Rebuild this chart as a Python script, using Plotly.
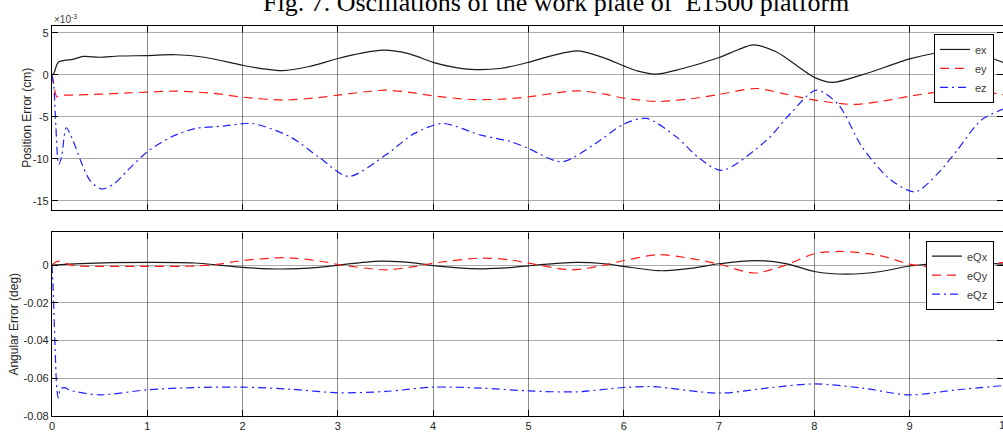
import plotly.graph_objects as go

# ---- position errors of the work plate (units of 1e-3 cm) ----
t_ex = [0, 0.02, 0.05, 0.07, 0.14, 0.22, 0.33, 0.5, 0.7, 1.0, 1.3, 1.6, 2.0, 2.2, 2.42, 2.7,
        3.0, 3.25, 3.48, 3.75, 4.0, 4.2, 4.4, 4.7, 5.0, 5.25, 5.52, 5.8, 6.0, 6.15, 6.34, 6.6,
        7.0, 7.2, 7.36, 7.6, 8.0, 8.19, 8.5, 9.0, 9.25, 9.5, 9.75, 10.0]
ex = [0, 0.2, 1.2, 1.55, 1.75, 1.85, 2.2, 2.1, 2.25, 2.3, 2.4, 2.1, 1.15, 0.75, 0.5, 1.0,
      1.95, 2.6, 2.94, 2.5, 1.5, 0.95, 0.65, 0.76, 1.5, 2.3, 2.86, 2.0, 1.07, 0.45, 0.08, 0.7,
      2.07, 3.0, 3.57, 2.75, -0.3, -0.9, 0.0, 1.9, 2.55, 2.9, 2.4, 1.4]

t_ey = [0, 0.02, 0.05, 0.09, 0.2, 0.5, 0.8, 1.0, 1.3, 1.7, 2.0, 2.44, 2.8, 3.0, 3.49, 3.8,
        4.0, 4.4, 4.7, 5.0, 5.51, 5.8, 6.0, 6.37, 6.7, 7.0, 7.39, 7.7, 8.0, 8.4, 8.7, 9.0,
        9.46, 9.75, 10.0]
ey = [0, -1.2, -2.6, -2.45, -2.4, -2.3, -2.15, -2.06, -1.94, -2.2, -2.65, -3.0, -2.7, -2.42,
      -1.82, -2.15, -2.5, -2.93, -2.9, -2.62, -1.9, -2.3, -2.77, -3.17, -2.85, -2.33, -1.62,
      -2.3, -3.0, -3.52, -3.15, -2.54, -1.82, -1.95, -2.4]

t_ez = [0, 0.02, 0.04, 0.07, 0.1, 0.15, 0.22, 0.3, 0.4, 0.52, 0.65, 0.8, 1.0, 1.25, 1.5,
        1.8, 2.1, 2.5, 2.8, 3.11, 3.5, 3.8, 4.1, 4.5, 4.8, 5.0, 5.35, 5.7, 6.0, 6.24, 6.55,
        6.8, 7.03, 7.5, 7.75, 8.02, 8.25, 8.5, 8.8, 9.06, 9.3, 9.5, 9.75, 10.0]
ez = [0, -1.5, -6.0, -10.7, -9.8, -6.3, -7.8, -10.2, -12.6, -13.6, -13.0, -11.3, -9.17,
      -7.4, -6.4, -6.1, -5.79, -7.38, -9.8, -12.1, -9.56, -7.0, -5.79, -7.18, -7.9, -8.77,
      -10.36, -8.2, -5.87, -5.19, -7.38, -10.0, -11.38, -7.77, -4.6, -1.82, -3.5, -8.57,
      -12.5, -13.93, -11.7, -8.96, -5.4, -4.0]

# ---- angular errors of the work plate (deg) ----
t_eqx = [0, 0.3, 1.0, 1.5, 1.75, 2.0, 2.4, 2.8, 3.0, 3.45, 3.8, 4.0, 4.5, 4.8, 5.0, 5.5,
         5.8, 6.0, 6.37, 6.7, 7.0, 7.38, 7.7, 8.0, 8.34, 8.7, 9.0, 9.4, 9.7, 10.0]
eqx = [0, 0.0008, 0.0014, 0.0011, 0.0, -0.0012, -0.0021, -0.0012, 0.0, 0.0021, 0.0012,
       -0.0003, -0.002, -0.0014, -0.0004, 0.0014, 0.0007, -0.0007, -0.003, -0.0018, 0.0007,
       0.0024, 0.0008, -0.0034, -0.0048, -0.0034, -0.0005, 0.0012, 0.001, 0.0005]

t_eqy = [0, 0.04, 0.08, 0.15, 0.25, 0.5, 1.0, 1.5, 1.75, 2.0, 2.45, 2.8, 3.0, 3.5, 3.8, 4.0,
         4.5, 4.8, 5.0, 5.45, 5.75, 6.0, 6.37, 6.7, 7.0, 7.37, 7.7, 8.0, 8.3, 8.7, 9.0, 9.4,
         9.7, 10.0]
eqy = [0, 0.0016, 0.0021, 0.0008, -0.0004, -0.0007, -0.0007, -0.0005, 0.0005, 0.0024,
       0.0039, 0.0022, 0.0003, -0.0025, -0.0008, 0.001, 0.0037, 0.0028, 0.001, -0.0025,
       -0.0005, 0.0024, 0.0055, 0.0035, 0.0005, -0.0042, 0.0, 0.006, 0.0072, 0.0049, 0.0005,
       -0.0015, -0.0002, 0.0015]

t_eqz = [0, 0.01, 0.03, 0.05, 0.066, 0.09, 0.13, 0.2, 0.5, 1.0, 1.5, 2.0, 2.5, 3.0, 3.5,
         4.0, 4.5, 5.0, 5.5, 6.0, 6.3, 7.0, 7.5, 8.0, 8.5, 9.0, 9.5, 10.0]
eqz = [0, -0.01, -0.04, -0.065, -0.0705, -0.0655, -0.065, -0.0665, -0.0688, -0.0661,
       -0.0649, -0.0647, -0.0658, -0.0677, -0.067, -0.0647, -0.0652, -0.0667, -0.0672,
       -0.0649, -0.0644, -0.0679, -0.0652, -0.063, -0.0652, -0.0688, -0.0661, -0.0638]

# axis ticks
x_ticks = list(range(0, 11))
pos_ticks = [-15, -10, -5, 0, 5]
pos_tick_text = ["-15", "-10", "-5", "0", "5"]
ang_ticks = [-0.08, -0.06, -0.04, -0.02, 0]
ang_tick_text = ["-0.08", "-0.06", "-0.04", "-0.02", "0"]

# ---- page geometry ----
W, H = 1003, 436
ML, MR, MT, MB = 52, 0, 0, 19.5
PH = H - MT - MB            # plot area height in px
PW = W - ML - MR
X_MAX = 9.98                # right edge of the page falls just short of t = 10


def py(px):
    """pixel row -> paper y"""
    return (PH - (px - MT)) / PH


def pxx(px):
    """pixel column -> paper x"""
    return (px - ML) / PW


FONT = "Liberation Sans, Arial, Helvetica, sans-serif"
TICK_FONT = dict(family=FONT, size=11, color="#262626")

BLACK = "#1a1a1a"
RED = "#ff1a1a"
BLUE = "#2020ff"
DASH = "9px,6px"
DASHDOT = "8px,4px,2px,4px"
LW = 1.2

fig = go.Figure()

fig.add_trace(go.Scatter(x=t_ex, y=ex, name="ex", mode="lines", xaxis="x", yaxis="y",
                         line=dict(color=BLACK, width=LW, shape="spline", smoothing=0.8),
                         legend="legend"))
fig.add_trace(go.Scatter(x=t_ey, y=ey, name="ey", mode="lines", xaxis="x", yaxis="y",
                         line=dict(color=RED, width=LW, dash=DASH, shape="spline", smoothing=0.8),
                         legend="legend"))
fig.add_trace(go.Scatter(x=t_ez, y=ez, name="ez", mode="lines", xaxis="x", yaxis="y",
                         line=dict(color=BLUE, width=LW, dash=DASHDOT, shape="spline", smoothing=0.8),
                         legend="legend"))

fig.add_trace(go.Scatter(x=t_eqx, y=eqx, name="eQx", mode="lines", xaxis="x2", yaxis="y2",
                         line=dict(color=BLACK, width=LW, shape="spline", smoothing=0.8),
                         legend="legend2"))
fig.add_trace(go.Scatter(x=t_eqy, y=eqy, name="eQy", mode="lines", xaxis="x2", yaxis="y2",
                         line=dict(color=RED, width=LW, dash=DASH, shape="spline", smoothing=0.8),
                         legend="legend2"))
fig.add_trace(go.Scatter(x=t_eqz, y=eqz, name="eQz", mode="lines", xaxis="x2", yaxis="y2",
                         line=dict(color=BLUE, width=LW, dash=DASHDOT, shape="spline", smoothing=0.8),
                         legend="legend2"))

axis_common = dict(showline=True, linecolor="black", linewidth=1.2, mirror="ticks",
                   ticks="inside", ticklen=6, tickcolor="black", tickwidth=1,
                   showgrid=True, zeroline=False, tickfont=TICK_FONT)

legend_common = dict(xanchor="right", yanchor="top", bgcolor="white",
                     bordercolor="black", borderwidth=1, tracegroupgap=0,
                     font=dict(family=FONT, size=11, color="#404040"))

fig.update_layout(
    width=W, height=H,
    margin=dict(l=ML, r=MR, t=MT, b=MB, autoexpand=False),
    paper_bgcolor="white", plot_bgcolor="white",
    font=dict(family=FONT, size=11, color="#262626"),
    xaxis=dict(domain=[0, 1], anchor="y", range=[0, X_MAX], tickvals=x_ticks,
               showticklabels=False, gridcolor="rgba(0,0,0,0.45)", gridwidth=1, **axis_common),
    yaxis=dict(domain=[py(210), py(26)], anchor="x",
               range=[-16.07, 5.83], tickvals=pos_ticks, ticktext=pos_tick_text,
               gridcolor="rgba(0,0,0,0.33)", gridwidth=1, **axis_common),
    xaxis2=dict(domain=[0, 1], anchor="y2", range=[0, X_MAX], tickvals=x_ticks,
                ticktext=[str(v) for v in x_ticks],
                gridcolor="rgba(0,0,0,0.45)", gridwidth=1, **axis_common),
    yaxis2=dict(domain=[py(416.5), py(232.7)], anchor="x2",
                range=[-0.08, 0.0173], tickvals=ang_ticks, ticktext=ang_tick_text,
                gridcolor="rgba(0,0,0,0.33)", gridwidth=1, **axis_common),
    legend=dict(x=pxx(994), y=py(34), **legend_common),
    legend2=dict(x=pxx(994), y=py(241), **legend_common),
    showlegend=True,
)

annotations = [
    # figure caption, partly running off the top edge of the page
    dict(text="Fig. 7. Oscillations of the work plate of  E1500 platform",
         xref="paper", yref="paper", x=pxx(556), y=py(3), xanchor="center", yanchor="middle",
         showarrow=False, font=dict(family="Liberation Serif, Times New Roman, serif",
                                    size=26, color="black")),
    # exponent of the position axis
    dict(text="\u00d710<sup>-3</sup>", xref="paper", yref="paper", x=0, y=py(19),
         xanchor="left", yanchor="middle", showarrow=False,
         font=dict(family=FONT, size=10, color="#404040")),
    # y-axis titles
    dict(text="Position Error (cm)", xref="paper", yref="paper", x=pxx(27), y=py(118),
         xanchor="center", yanchor="middle", textangle=-90, showarrow=False,
         font=dict(family=FONT, size=12, color="#262626")),
    dict(text="Angular Error (deg)", xref="paper", yref="paper", x=pxx(14), y=py(325),
         xanchor="center", yanchor="middle", textangle=-90, showarrow=False,
         font=dict(family=FONT, size=12, color="#262626")),
    # last x tick label (t = 10) sits on the right edge of the page
    dict(text="10", xref="paper", yref="paper", x=pxx(52 + 10 * PW / X_MAX), y=py(418),
         xanchor="center", yanchor="top", showarrow=False, font=TICK_FONT),
]
fig.update_layout(annotations=annotations)

fig.write_html("out.html")
